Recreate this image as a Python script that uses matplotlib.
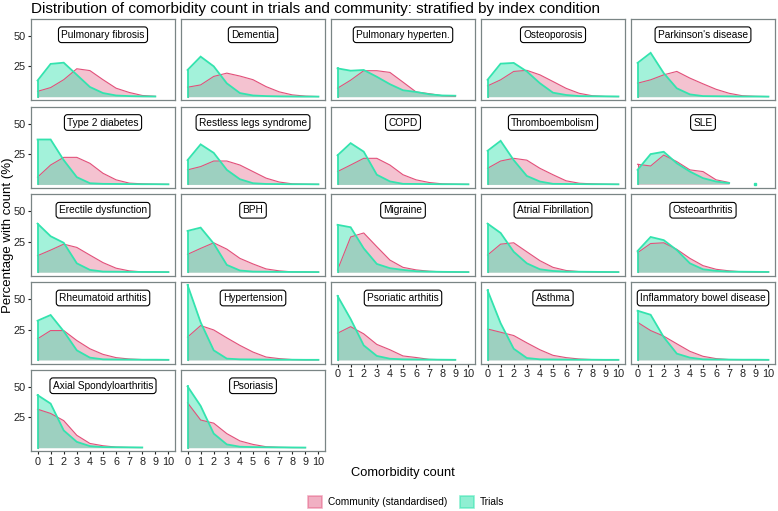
import numpy as np
import matplotlib
matplotlib.use('Agg')
import matplotlib.pyplot as plt
from matplotlib.patches import Patch

# ── Data (percent of patients with each comorbidity count) ──

conditions = [
    'Pulmonary fibrosis', 'Dementia', 'Pulmonary hyperten.', 'Osteoporosis',
    "Parkinson's disease", 'Type 2 diabetes', 'Restless legs syndrome', 'COPD',
    'Thromboembolism', 'SLE', 'Erectile dysfunction', 'BPH', 'Migraine',
    'Atrial Fibrillation', 'Osteoarthritis', 'Rheumatoid arthitis',
    'Hypertension', 'Psoriatic arthitis', 'Asthma', 'Inflammatory bowel disease',
    'Axial Spondyloarthritis', 'Psoriasis',
]

trials = [
    [13.3, 27.0, 28.0, 18.0, 8.0, 3.0, 1.0, 0.5, 0.3, 0.2],
    [22.0, 33.0, 25.0, 11.0, 3.0, 1.0, 0.5, 0.3, 0.2, 0.1, 0.1],
    [23.3, 21.4, 22.0, 16.4, 10.3, 5.3, 3.9, 2.0, 1.0, 0.8],
    [13.9, 27.2, 27.8, 20.8, 11.1, 3.3, 1.4, 0.5, 0.4, 0.3, 0.2],
    [27.8, 36.1, 19.4, 6.9, 1.9, 0.5, 0.4, 0.3, 0.2, 0.2, 0.1],
    [37.0, 37.0, 20.0, 6.0, 1.0, 0.5, 0.4, 0.3, 0.2, 0.2, 0.1],
    [20.0, 33.0, 26.0, 12.0, 4.3, 1.0, 0.4, 0.3, 0.2, 0.2, 0.1],
    [24.0, 34.0, 27.0, 8.0, 2.5, 0.5, 0.4, 0.3, 0.2, 0.2, 0.1],
    [27.7, 35.9, 20.0, 7.0, 2.4, 0.5, 0.4, 0.3, 0.2, 0.2, 0.1],
    [12.0, 25.0, 26.9, 17.4, 10.6, 5.2, 2.4, 1.1, np.nan, 0.3],
    [40.0, 29.6, 24.2, 7.3, 1.9, 0.5, 0.4, 0.3, 0.2, 0.2, 0.1],
    [34.0, 36.7, 23.6, 6.0, 1.4, 0.5, 0.4, 0.3, 0.2, 0.2, 0.1],
    [39.0, 37.0, 19.6, 6.8, 3.3, 1.9, 0.8, 0.5, 0.3, 0.2, 0.1],
    [40.0, 32.3, 16.8, 7.3, 2.4, 1.0, 0.5, 0.4, 0.3, 0.2, 0.1],
    [17.4, 29.0, 26.4, 18.2, 7.3, 2.4, 1.1, 0.5, 0.4, 0.3, 0.2],
    [32.3, 37.0, 23.6, 7.9, 1.9, 0.5, 0.4, 0.3, 0.2, 0.2, 0.1],
    [61.7, 31.0, 7.9, 1.1, 0.5, 0.4, 0.3, 0.2, 0.2, 0.1, 0.1],
    [52.7, 33.7, 12.0, 3.3, 1.0, 0.5, 0.4, 0.3, 0.2, 0.1],
    [57.3, 30.2, 9.2, 1.6, 0.5, 0.4, 0.3, 0.2, 0.2, 0.1, 0.1],
    [40.5, 37.2, 18.8, 5.2, 1.9, 0.5, 0.4, 0.3, 0.2, 0.2, 0.1],
    [43.3, 36.3, 14.2, 4.8, 1.3, 0.5, 0.4, 0.3, 0.2],
    [50.5, 34.4, 11.6, 2.7, 0.8, 0.5, 0.4, 0.3, 0.2, 0.1],
]

community = [
    [4.4, 7.5, 14.0, 23.0, 21.5, 14.0, 7.0, 3.5, 1.0, 0.3],
    [7.8, 9.7, 16.7, 19.4, 17.0, 14.0, 8.3, 4.0, 1.5, 0.5, 0.1],
    [7.0, 13.6, 21.4, 21.4, 20.0, 12.0, 3.9, 2.5, 0.8, 0.3],
    [8.9, 13.9, 20.8, 21.7, 18.0, 12.5, 6.9, 2.8, 0.8, 0.2, 0.1],
    [11.1, 13.9, 18.0, 20.8, 15.3, 10.6, 6.1, 2.8, 0.8, 0.3, 0.1],
    [6.0, 16.0, 22.3, 22.3, 17.4, 9.2, 3.8, 1.1, 0.5, 0.2, 0.1],
    [12.0, 14.7, 19.3, 19.3, 16.0, 10.6, 5.2, 2.0, 0.5, 0.2, 0.1],
    [10.6, 16.0, 21.5, 21.5, 16.0, 8.0, 3.8, 1.6, 0.5, 0.2, 0.1],
    [13.3, 19.3, 21.5, 20.0, 13.3, 8.0, 3.0, 1.0, 0.5, 0.2, 0.1],
    [16.6, 15.2, 24.2, 18.8, 12.0, 10.6, 3.8, 1.6],
    [13.6, 18.2, 23.1, 20.4, 14.1, 7.9, 3.3, 1.1, 0.3, 0.1, 0.1],
    [14.7, 19.6, 24.2, 19.0, 11.4, 6.8, 2.7, 1.1, 0.3, 0.1, 0.1],
    [1.9, 29.0, 32.3, 21.0, 10.0, 4.0, 1.9, 0.8, 0.3, 0.1, 0.1],
    [14.1, 23.1, 24.2, 16.8, 9.5, 4.0, 1.4, 0.5, 0.2, 0.1, 0.1],
    [16.0, 23.6, 24.2, 18.8, 11.4, 5.4, 2.4, 1.1, 0.3, 0.1, 0.1],
    [17.4, 24.2, 24.2, 16.0, 9.2, 4.6, 1.9, 0.8, 0.3, 0.1, 0.1],
    [18.8, 28.3, 24.7, 18.2, 12.0, 6.5, 2.4, 1.1, 0.3, 0.1, 0.1],
    [22.0, 27.4, 21.5, 12.8, 8.4, 3.3, 2.0, 0.5, 0.2, 0.1],
    [25.5, 22.8, 20.1, 14.1, 8.4, 3.8, 1.9, 0.8, 0.3, 0.1, 0.1],
    [31.0, 24.2, 19.6, 13.3, 7.1, 3.0, 1.1, 0.3, 0.2, 0.1, 0.1],
    [31.7, 28.2, 22.3, 10.2, 3.5, 1.6, 0.5, 0.2, 0.1],
    [37.0, 22.8, 20.2, 11.6, 5.6, 2.7, 0.8, 0.3, 0.1, 0.1],
]

x_ticks = list(range(11))
y_ticks = [25, 50]

# ── Style ──

PINK = '#E2507A'
GREEN = '#33E3AE'
BORDER = '#7A8585'

plt.rcParams.update({
    'font.family': ['Liberation Sans', 'DejaVu Sans'],
    'font.size': 7.5,
    'axes.linewidth': 0.9,
})

W, H = 778, 511
fig = plt.figure(figsize=(W / 100, H / 100), dpi=100)


def draw_area(ax, vals, color, alpha, lw):
    y = np.asarray(vals, dtype=float)
    x = np.arange(len(y))
    ok = ~np.isnan(y)
    ax.fill_between(x, 0, y, where=ok, color=color, alpha=alpha, lw=0)
    ax.plot(x, y, color=color, lw=lw, solid_joinstyle='miter')
    # lone points between gaps
    for k in range(len(y)):
        if not ok[k]:
            continue
        left = k == 0 or not ok[k - 1]
        right = k == len(y) - 1 or not ok[k + 1]
        if left and right:
            ax.plot(x[k], y[k], marker='s', ms=1.5, color=color, lw=0)
    # left edge of the area
    ax.plot([x[ok][0]] * 2, [0, y[ok][0]], color=color, lw=lw)


n = len(conditions)
for i, name in enumerate(conditions):
    r, c = divmod(i, 5)
    left = (31 + c * 150) / W
    bottom = 1 - (100.4 + r * 87.75) / H
    ax = fig.add_axes([left, bottom, 144 / W, 81.5 / H])

    draw_area(ax, community[i], PINK, 0.35, 0.8)
    draw_area(ax, trials[i], GREEN, 0.45, 1.3)

    ax.set_xlim(-0.5, 10.5)
    ax.set_ylim(-3.05, 64.05)
    for sp in ax.spines.values():
        sp.set_color(BORDER)

    ax.text(5, 51, name, ha='center', va='center', fontsize=7.3,
            bbox=dict(boxstyle='round,pad=0.28,rounding_size=0.3',
                      fc='white', ec='black', lw=0.8))

    if c == 0:
        ax.set_yticks(y_ticks)
        ax.tick_params(axis='y', length=2.5, width=0.8, pad=1.5,
                       labelsize=7.8, colors='#222222')
    else:
        ax.set_yticks([])

    if i + 5 >= n:
        ax.set_xticks(x_ticks)
        ax.tick_params(axis='x', length=2.5, width=0.8, pad=1.5,
                       labelsize=7.8, colors='#222222')
    else:
        ax.set_xticks([])

fig.text(31 / W, 1 - 9 / H, 'Distribution of comorbidity count in trials and '
         'community: stratified by index condition',
         ha='left', va='center', fontsize=11)
fig.text(8 / W, 1 - 235 / H, 'Percentage with count (%)', rotation=90,
         ha='center', va='center', fontsize=9.5)
fig.text(403 / W, 1 - 473 / H, 'Comorbidity count', ha='center',
         va='center', fontsize=9.3)

handles = [Patch(facecolor=PINK, alpha=0.45, edgecolor=PINK, lw=1.2),
           Patch(facecolor=GREEN, alpha=0.55, edgecolor=GREEN, lw=1.2)]
fig.legend(handles, ['Community (standardised)', 'Trials'],
           loc='center', bbox_to_anchor=(406 / W, 1 - 502 / H), ncol=2,
           frameon=False, fontsize=7.3, handlelength=1.4, handleheight=1.4,
           columnspacing=1.2, handletextpad=0.6)

fig.savefig('out.png', dpi=100)
